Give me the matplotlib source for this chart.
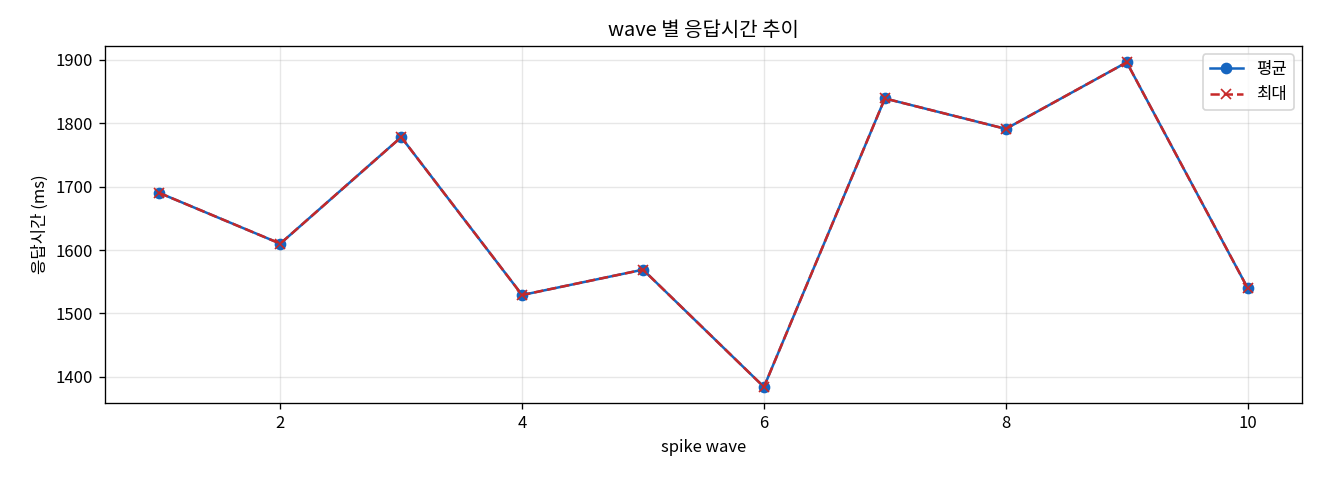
import numpy as np
from matplotlib import pyplot as plt

plt.rcParams['font.family'] = ['Noto Sans CJK KR', 'DejaVu Sans']
plt.rcParams['axes.unicode_minus'] = False

waves = [1, 2, 3, 4, 5, 6, 7, 8, 9, 10]
avg_ms = [1690, 1610, 1778, 1529, 1569, 1384, 1839, 1791, 1896, 1540]
max_ms = [1690, 1610, 1778, 1529, 1569, 1384, 1839, 1791, 1896, 1540]

fig, ax = plt.subplots(figsize=(11, 4), dpi=120)
fig.subplots_adjust(left=0.0795, right=0.9864, top=0.904, bottom=0.160)

ax.plot(waves, avg_ms, marker='o', color='#1565C0', lw=1.5, ms=6, label='평균')
ax.plot(waves, max_ms, marker='x', ls='--', color='#C62828', lw=1.5, ms=6, label='최대')

ax.set_title('wave 별 응답시간 추이')
ax.set_xlabel('spike wave')
ax.set_ylabel('응답시간 (ms)')
ax.grid(True, alpha=0.3)
ax.legend(loc='upper right')

fig.savefig('out.png', dpi=120)
